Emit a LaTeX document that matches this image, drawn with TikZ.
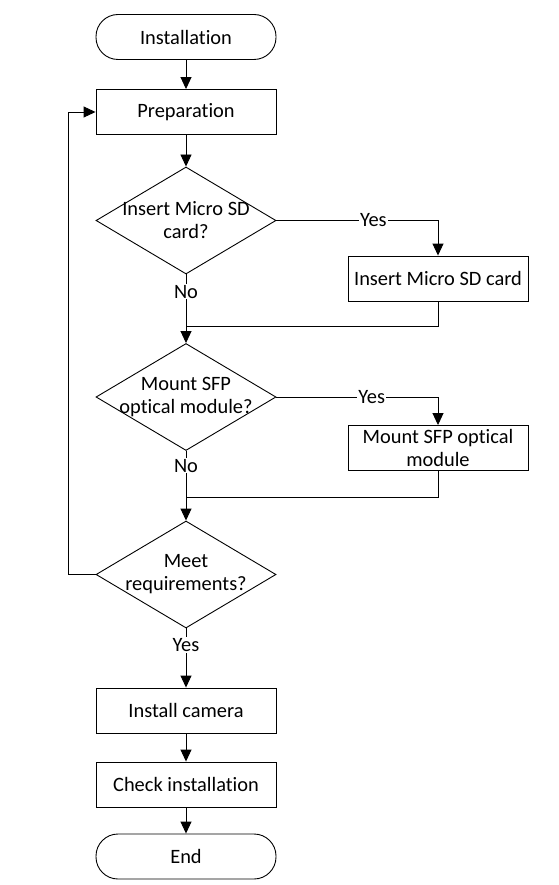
\documentclass[tikz,border=0pt]{standalone}
\usepackage{fontspec}
\setmainfont{Carlito}[Ligatures={NoCommon}]
\usetikzlibrary{shapes.geometric,arrows.meta}
\begin{document}
\begin{tikzpicture}[x=1pt,y=-1pt,
  every node/.style={font=\fontsize{20.4}{23.5}\selectfont},
  term/.style={draw,line width=0.9pt,rounded corners=22pt,minimum width=180pt,minimum height=45pt,inner sep=0pt},
  proc/.style={draw,line width=0.9pt,minimum width=180pt,minimum height=45pt,inner sep=0pt,align=center},
  dia/.style={draw,line width=0.9pt,diamond,minimum width=180pt,minimum height=107pt,inner sep=0pt,aspect=1.68},
  txt/.style={align=center,inner sep=0pt},
  lbl/.style={fill=white,inner sep=1pt},
  arr/.style={line width=0.9pt,-{Triangle[length=12pt,width=11pt]}},
  ln/.style={line width=0.9pt}]
\useasboundingbox (0,0) rectangle (558,885);
\node[term] (inst) at (186,37) {Installation};
\node[proc] (prep) at (186,112) {Preparation};
\node[dia] (d1) at (186,220.5) {};
\node[txt] (d1t) at (186,220) {Insert Micro SD\\card?};
\node[proc] (b1) at (438,278.5) {Insert Micro SD card};
\coordinate (m1) at (186,326);
\node[dia] (d2) at (186,397) {};
\node[txt] (d2t) at (186,397) {Mount SFP\\optical module?};
\node[proc] (b2) at (438,448) {Mount SFP optical\\module};
\coordinate (m2) at (186,497);
\node[dia] (d3) at (186,574.5) {};
\node[txt] (d3t) at (186,574) {Meet\\requirements?};
\coordinate (lp) at (68,574.5);
\node[proc] (cam) at (186,710.5) {Install camera};
\node[proc] (chk) at (186,784.5) {Check installation};
\node[term] (end) at (186,856.5) {End};

\draw[arr] (inst) -- (prep);
\draw[arr] (prep) -- (d1.north);
\draw[arr] (d1.east) -- node[lbl,pos=0.6] (y1) {Yes} (b1.north |- d1.east) -- (b1.north);
\draw[arr] (d1.south) -- node[lbl,pos=0.25] (n1) {No} (d2.north);
\draw[ln] (b1.south) |- (m1);
\draw[arr] (d2.east) -- node[lbl,pos=0.59] (y2) {Yes} (b2.north |- d2.east) -- (b2.north);
\draw[arr] (d2.south) -- node[lbl,pos=0.21] (n2) {No} (d3.north);
\draw[ln] (b2.south) |- (m2);
\draw[arr] (d3.west) -- (lp) |- (prep.west);
\draw[arr] (d3.south) -- node[lbl,pos=0.28] (y3) {Yes} (cam.north);
\draw[arr] (cam) -- (chk);
\draw[arr] (chk) -- (end);
\end{tikzpicture}
\end{document}
